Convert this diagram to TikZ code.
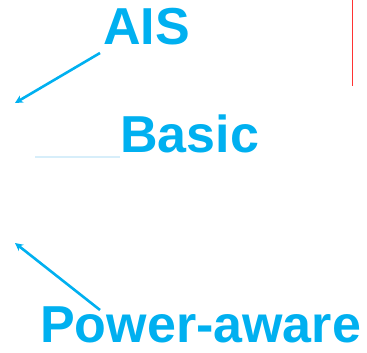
\documentclass[tikz,border=0pt]{standalone}
\usepackage{fontspec}
\setmainfont{Liberation Sans}
\usetikzlibrary{arrows.meta}
\definecolor{skyblue}{RGB}{0,176,240}
\definecolor{paleblue}{RGB}{215,238,250}
\tikzset{
  bigword/.style={anchor=base west, inner sep=0pt, text=skyblue,
    font=\fontsize{52}{60}\selectfont\bfseries},
  pointer/.style={draw=skyblue, line width=2.6pt,
    -{Stealth[length=8pt,width=8pt]}},
}
\begin{document}
\begin{tikzpicture}[x=1pt,y=1pt]
  \useasboundingbox (0,0) rectangle (367,353);
  % labels
  \node[bigword] (ais) at (103,308) {AIS};
  \node[bigword] (basic) at (120,200) {Basic};
  \node[bigword] (power) at (40,10) {Power-aware};
  % arrow ends
  \coordinate (aisTail) at (100,300);
  \coordinate (aisHead) at (15,250);
  \coordinate (powTail) at (100,43);
  \coordinate (powHead) at (15,110);
  \draw[pointer] (aisTail) -- (aisHead);
  \draw[pointer] (powTail) -- (powHead);
  % faint rule left of Basic
  \coordinate (ruleL) at (35,196);
  \coordinate (ruleR) at (120,196);
  \draw[paleblue, line width=1.5pt] (ruleL) -- (ruleR);
  % thin red mark at the top right
  \coordinate (redTop) at (352,353);
  \coordinate (redBot) at (352,267);
  \draw[red!80, line width=0.6pt] (redTop) -- (redBot);
\end{tikzpicture}
\end{document}
